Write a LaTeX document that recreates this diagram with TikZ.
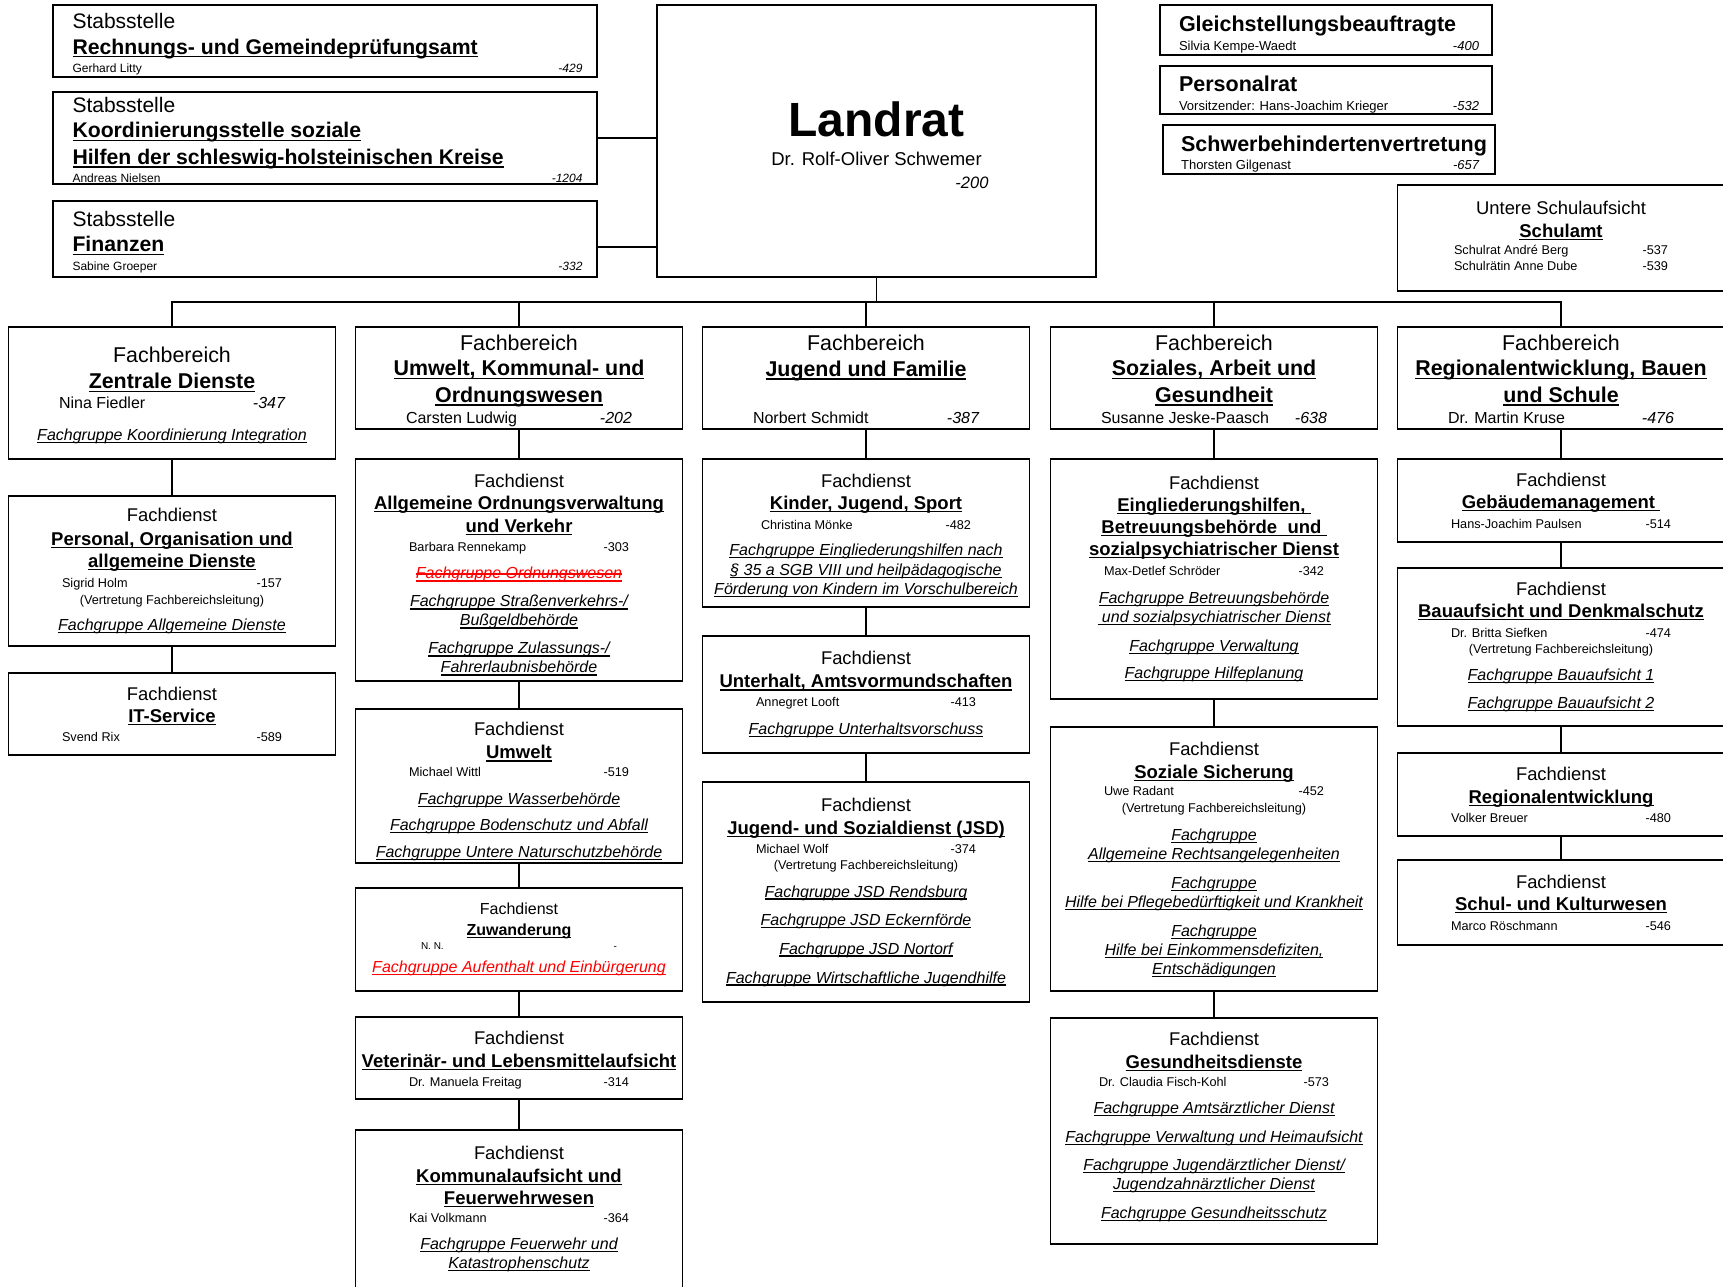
\documentclass[tikz,border=0pt]{standalone}
\usepackage{fontspec}
\setmainfont{Liberation Sans}
\usetikzlibrary{positioning}

% underline / strike-through at a fixed height
\newcommand\ulin[1]{\setbox0\hbox{#1}\rlap{\rule[-0.16em]{\wd0}{0.075em}}\box0}
\newcommand\strk[1]{\setbox0\hbox{#1}\rlap{\rule[0.28em]{\wd0}{0.075em}}\box0}
\newcommand\who[3][220pt]{\makebox[#1]{#2\hfill#3}}
% invisible struts to move a block of lines inside its box
\newcommand\padtop[1]{\rule{0pt}{#1}}
\newcommand\padbot[1]{\rule[-#1]{0pt}{0pt}}

% text roles
\newcommand\sttit[1]{{\fontsize{21.2}{25}\selectfont\bfseries\ulin{#1}}}
\newcommand\stwho{\fontsize{12}{25}\selectfont}
\newcommand\rttit{\fontsize{21.5}{21}\selectfont\bfseries}
\newcommand\rtwho{\fontsize{13}{21}\selectfont}
\newcommand\fbtit[1]{{\fontsize{21.4}{25}\selectfont\bfseries\ulin{#1}}}
\newcommand\fbwho{\fontsize{16}{25}\selectfont}
\newcommand\fdtit[1]{{\fontsize{18.5}{19}\selectfont\bfseries\ulin{#1}}}
\newcommand\fdwho{\fontsize{12.7}{19}\selectfont}
\newcommand\fgrp[1]{{\fontsize{16}{19}\selectfont\itshape\ulin{#1}}}

\tikzset{
  box/.style={draw, rectangle, line width=1.6pt, inner sep=0pt, outer sep=0pt, align=center},
  stab/.style={box, align=left, minimum width=544pt, font={\fontsize{21}{25}\selectfont}},
  rtbox/.style={box, align=left, minimum width=332pt, font={\fontsize{13}{21}\selectfont}},
  fbbox/.style={box, anchor=north, minimum width=327pt, font={\fontsize{21.4}{25}\selectfont}},
  fdbox/.style={box, minimum width=327pt, font={\fontsize{18.4}{19}\selectfont}},
  link/.style={line width=1.4pt},
}

\begin{document}
\begin{tikzpicture}[x=1pt, y=-1pt]
    \useasboundingbox (0,0) rectangle (1723,1286);

    % Stabsstellen
    \node[stab, minimum height=72pt] (rpa) at (325,41) {\padtop{21pt}Stabsstelle\\[1pt]
        \sttit{Rechnungs- und Gemeindeprüfungsamt}\\[-6.5pt]
        {\stwho\who[510pt]{Gerhard Litty}{\itshape -429}}\hspace*{-5pt}};
    \node[stab, minimum height=92pt] (kss) at (325,138) {\padtop{19pt}Stabsstelle\\[0.5pt]
        \sttit{Koordinierungsstelle soziale}\\[1.4pt]
        \sttit{Hilfen der schleswig-holsteinischen Kreise}\\[-6.5pt]
        {\stwho\who[510pt]{Andreas Nielsen}{\itshape -1204}}\hspace*{-5pt}};
    \node[stab, minimum height=76pt] (fin) at (325,239) {\padtop{21pt}Stabsstelle\\[0.5pt]
        \sttit{Finanzen}\\[-6.5pt]
        {\stwho\who[510pt]{Sabine Groeper}{\itshape -332}}\hspace*{-5pt}};

    % Landrat
    \node[box, minimum width=439pt, minimum height=272pt, font={\fontsize{18.5}{22}\selectfont}] (landrat) at (876.5,141) {
        {\fontsize{48}{22}\selectfont\bfseries\padtop{44pt}Landrat}\\[7pt]
        Dr. Rolf-Oliver Schwemer\\[1pt]
        {\fontsize{16.5}{22}\selectfont\itshape\makebox[224pt][r]{-200}}};

    % Beauftragte und Vertretungen
    \node[rtbox, minimum height=50pt] (gleich) at (1326,30) {{\rttit\padtop{25pt}Gleichstellungsbeauftragte}\\[-2pt]
        {\rtwho\who[300pt]{Silvia Kempe-Waedt}{\itshape -400}}\hspace*{-6pt}};
    \node[rtbox, minimum height=48pt] (prat) at (1326,90) {{\rttit\padtop{25pt}Personalrat}\\[-2pt]
        {\rtwho\who[300pt]{Vorsitzender: Hans-Joachim Krieger}{\itshape -532}}\hspace*{-6pt}};
    \node[rtbox, minimum height=49pt] (sbv) at (1329,149.5) {{\rttit\padtop{25pt}Schwerbehindertenvertretung}\hspace*{-10pt}\\[-2.5pt]
        {\rtwho\who[298pt]{Thorsten Gilgenast}{\itshape -657}}\hspace*{-10pt}};

    % Schulamt
    \node[fdbox, minimum height=106pt] (schulamt) at (1561,238) {Untere Schulaufsicht\\[4pt]
        \fdtit{Schulamt}\\[-2.2pt]
        {\fdwho\who[214pt]{Schulrat André Berg}{-537}}\\[-2.5pt]
        {\fdwho\who[214pt]{Schulrätin Anne Dube}{-539}\padbot{4.4pt}}};

    % Fachbereiche
    \node[fbbox, minimum height=132pt] (zd) at (172,327) {\padtop{20.2pt}Fachbereich\\[1.5pt]
        \fbtit{Zentrale Dienste}\\[-5pt]
        {\fbwho\who[226pt]{Nina Fiedler}{\itshape -347}}\\[7pt]
        \fgrp{Fachgruppe Koordinierung Integration}};
    \node[fbbox, minimum height=102pt] (uko) at (519,327) {\padtop{21.1pt}Fachbereich\\[0.5pt]
        \fbtit{Umwelt, Kommunal- und}\\[1.5pt]
        \fbtit{Ordnungswesen}\\[-4pt]
        {\fbwho\who[226pt]{Carsten Ludwig}{\itshape -202}}};
    \node[fbbox, minimum height=102pt] (juf) at (866,327) {\padtop{17.8pt}Fachbereich\\[0.5pt]
        \fbtit{Jugend und Familie}\\[22pt]
        {\fbwho\who[226pt]{Norbert Schmidt}{\itshape -387}}};
    \node[fbbox, minimum height=102pt] (sag) at (1214,327) {\padtop{17.8pt}Fachbereich\\[0.5pt]
        \fbtit{Soziales, Arbeit und}\\[1.5pt]
        \fbtit{Gesundheit}\\[-4pt]
        {\fbwho\who[226pt]{Susanne Jeske-Paasch}{\itshape -638}}};
    \node[fbbox, minimum height=102pt] (rbs) at (1561,327) {\padtop{17.8pt}Fachbereich\\[0.5pt]
        \fbtit{Regionalentwicklung, Bauen}\\[1.5pt]
        \fbtit{und Schule}\\[-4pt]
        {\fbwho\who[226pt]{Dr. Martin Kruse}{\itshape -476}}};

    % Fachdienste Zentrale Dienste
    \node[fdbox, minimum height=150pt, below=37pt of zd] (pers) {Fachdienst\\[5pt]
        \fdtit{Personal, Organisation und}\\[3pt]
        \fdtit{allgemeine Dienste}\\[1pt]
        {\fdwho\who{Sigrid Holm}{-157}}\\[-2.5pt]
        {\fdwho (Vertretung Fachbereichsleitung)}\\[7.5pt]
        \fgrp{Fachgruppe Allgemeine Dienste}};
    \node[fdbox, minimum height=82pt, below=27pt of pers] (it) {Fachdienst\\[3pt]
        \fdtit{IT-Service}\\
        {\fdwho\who{Svend Rix}{-589}}};

    % Fachdienste Umwelt, Kommunal- und Ordnungswesen
    \node[fdbox, minimum height=222pt, below=30pt of uko] (allg) {\padtop{23pt}Fachdienst\\[3pt]
        \fdtit{Allgemeine Ordnungsverwaltung}\\[4pt]
        \fdtit{und Verkehr}\\
        {\fdwho\who{Barbara Rennekamp}{-303}}\\[8.5pt]
        {\color{red}\fgrp{\strk{Fachgruppe Ordnungswesen}}}\\[9pt]
        \fgrp{Fachgruppe Straßenverkehrs-/}\\
        \fgrp{Bußgeldbehörde}\\[9pt]
        \fgrp{Fachgruppe Zulassungs-/}\\
        \fgrp{Fahrerlaubnisbehörde}};
    \node[fdbox, minimum height=154pt, below=28pt of allg] (umw) {\padtop{24.4pt}Fachdienst\\[4pt]
        \fdtit{Umwelt}\\[-1pt]
        {\fdwho\who{Michael Wittl}{-519}}\\[8.5pt]
        \fgrp{Fachgruppe Wasserbehörde}\\[7.5pt]
        \fgrp{Fachgruppe Bodenschutz und Abfall}\\[7.5pt]
        \fgrp{Fachgruppe Untere Naturschutzbehörde}};
    \node[fdbox, minimum height=103pt, below=25pt of umw] (zuw) {{\fontsize{16}{19}\selectfont Fachdienst}\\[2pt]
        {\fontsize{16}{19}\selectfont\bfseries\ulin{Zuwanderung}}\\[-4.7pt]
        {\fontsize{10}{19}\selectfont\who[196pt]{N. N.}{-}}\\[4pt]
        {\color{red}\fgrp{Fachgruppe Aufenthalt und Einbürgerung}}};
    \node[fdbox, minimum height=82pt, below=26pt of zuw] (vet) {\padtop{16.7pt}Fachdienst\\[4pt]
        \fdtit{Veterinär- und Lebensmittelaufsicht}\\
        {\fdwho\who{Dr. Manuela Freitag}{-314}}};
    \node[fdbox, minimum height=170pt, below=31pt of vet] (komm) {\padtop{17pt}Fachdienst\\[4pt]
        \fdtit{Kommunalaufsicht und}\\[3pt]
        \fdtit{Feuerwehrwesen}\\[-1.5pt]
        {\fdwho\who{Kai Volkmann}{-364}}\\[8.5pt]
        \fgrp{Fachgruppe Feuerwehr und}\\
        \fgrp{Katastrophenschutz}\\
        \mbox{}};

    % Fachdienste Jugend und Familie
    \node[fdbox, minimum height=148pt, below=30pt of juf] (kjs) {\padtop{19pt}Fachdienst\\[3pt]
        \fdtit{Kinder, Jugend, Sport}\\[1pt]
        {\fdwho\who[210pt]{Christina Mönke}{-482}}\\[7.5pt]
        \fgrp{Fachgruppe Eingliederungshilfen nach}\\[1pt]
        \fgrp{§ 35 a SGB VIII und heilpädagogische}\\
        \fgrp{Förderung von Kindern im Vorschulbereich}};
    \node[fdbox, minimum height=117pt, below=29pt of kjs] (unt) {Fachdienst\\[4pt]
        \fdtit{Unterhalt, Amtsvormundschaften}\\
        {\fdwho\who{Annegret Looft}{-413}}\\[8.5pt]
        \fgrp{Fachgruppe Unterhaltsvorschuss}};
    \node[fdbox, minimum height=220pt, below=29pt of unt] (jsd) {Fachdienst\\[4pt]
        \fdtit{Jugend- und Sozialdienst (JSD)}\\
        {\fdwho\who{Michael Wolf}{-374}}\\[-2.5pt]
        {\fdwho (Vertretung Fachbereichsleitung)}\\[8.5pt]
        \fgrp{Fachgruppe JSD Rendsburg}\\[9.5pt]
        \fgrp{Fachgruppe JSD Eckernförde}\\[9.5pt]
        \fgrp{Fachgruppe JSD Nortorf}\\[10pt]
        \fgrp{Fachgruppe Wirtschaftliche Jugendhilfe}};

    % Fachdienste Soziales, Arbeit und Gesundheit
    \node[fdbox, minimum height=240pt, below=30pt of sag] (eing) {Fachdienst\\[3pt]
        \fdtit{Eingliederungshilfen,\ }\\[3pt]
        \fdtit{Betreuungsbehörde\ \ und\ }\\[3pt]
        \fdtit{sozialpsychiatrischer Dienst}\\[1pt]
        {\fdwho\who{Max-Detlef Schröder}{-342}}\\[9.5pt]
        \fgrp{Fachgruppe Betreuungsbehörde}\\
        \fgrp{\ und sozialpsychiatrischer Dienst}\\[9.5pt]
        \fgrp{Fachgruppe Verwaltung}\\[8.5pt]
        \fgrp{Fachgruppe Hilfeplanung}};
    \node[fdbox, minimum height=264pt, below=28pt of eing] (sozs) {\padtop{15pt}Fachdienst\\[4pt]
        \fdtit{Soziale Sicherung}\\[-1.4pt]
        {\fdwho\who{Uwe Radant}{-452}}\\[-2.5pt]
        {\fdwho (Vertretung Fachbereichsleitung)}\\[9.5pt]
        \fgrp{Fachgruppe}\\
        \fgrp{Allgemeine Rechtsangelegenheiten}\\[9.5pt]
        \fgrp{Fachgruppe}\\
        \fgrp{Hilfe bei Pflegebedürftigkeit und Krankheit}\\[10.5pt]
        \fgrp{Fachgruppe}\\
        \fgrp{Hilfe bei Einkommensdefiziten,}\\
        \fgrp{Entschädigungen}};
    \node[fdbox, minimum height=226pt, below=27pt of sozs] (ges) {Fachdienst\\[4pt]
        \fdtit{Gesundheitsdienste}\\[-1pt]
        {\fdwho\who[230pt]{Dr. Claudia Fisch-Kohl}{-573}}\\[8.5pt]
        \fgrp{Fachgruppe Amtsärztlicher Dienst}\\[9.5pt]
        \fgrp{Fachgruppe Verwaltung und Heimaufsicht}\\[9.5pt]
        \fgrp{Fachgruppe Jugendärztlicher Dienst/}\\
        \fgrp{Jugendzahnärztlicher Dienst}\\[10pt]
        \fgrp{Fachgruppe Gesundheitsschutz}\padbot{11pt}};

    % Fachdienste Regionalentwicklung, Bauen und Schule
    \node[fdbox, minimum height=83pt, below=30pt of rbs] (geb) {Fachdienst\\[3pt]
        \fdtit{Gebäudemanagement\ }\\[1pt]
        {\fdwho\who{Hans-Joachim Paulsen}{-514}}};
    \node[fdbox, minimum height=158pt, below=26pt of geb] (bau) {Fachdienst\\[3pt]
        \fdtit{Bauaufsicht und Denkmalschutz}\\[1pt]
        {\fdwho\who{Dr. Britta Siefken}{-474}}\\[-2.5pt]
        {\fdwho (Vertretung Fachbereichsleitung)}\\[7.5pt]
        \fgrp{Fachgruppe Bauaufsicht 1}\\[9.5pt]
        \fgrp{Fachgruppe Bauaufsicht 2}};
    \node[fdbox, minimum height=83pt, below=27pt of bau] (reg) {Fachdienst\\[4pt]
        \fdtit{Regionalentwicklung}\\
        {\fdwho\who{Volker Breuer}{-480}}};
    \node[fdbox, minimum height=85pt, below=24pt of reg] (schul) {Fachdienst\\[3pt]
        \fdtit{Schul- und Kulturwesen}\\[1pt]
        {\fdwho\who{Marco Röschmann}{-546}}};

    % Verbindungen
    \coordinate (bus) at (0,302);
    \draw[link] (kss.east) -- (kss.east -| landrat.west);
    \draw[link] ([yshift=-8pt]fin.east) -- ([yshift=-8pt]fin.east -| landrat.west);
    \draw[link] (landrat.south) -- (landrat.south |- bus);
    \draw[link, line width=2pt] (zd.north) -- (zd.north |- bus) -- (rbs.north |- bus) -- (rbs.north);
    \foreach \fb in {uko,juf,sag}
        \draw[link] (\fb.north) -- (\fb.north |- bus);
    \foreach \a/\b in {zd/pers, pers/it, uko/allg, allg/umw, umw/zuw, zuw/vet, vet/komm,
                       juf/kjs, kjs/unt, unt/jsd, sag/eing, eing/sozs, sozs/ges,
                       rbs/geb, geb/bau, bau/reg, reg/schul}
        \draw[link] (\a.south) -- (\b.north);
\end{tikzpicture}
\end{document}
